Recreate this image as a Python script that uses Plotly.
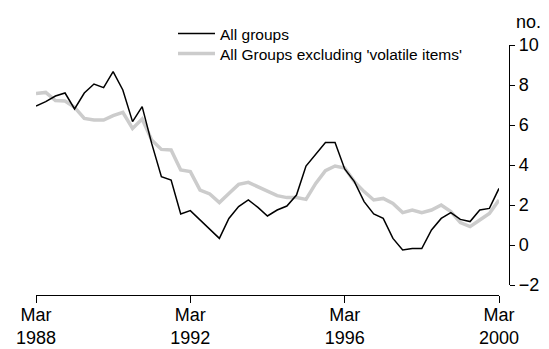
import plotly.graph_objects as go
import pandas as pd

# Quarterly, Mar 1988 to Mar 2000
quarters = pd.date_range("1988-03-01", "2000-03-01", freq="3MS").strftime("%Y-%m-%d").tolist()

all_groups = [
    6.95, 7.17, 7.45, 7.6, 6.8, 7.6, 8.05, 7.87, 8.67, 7.75, 6.17, 6.92,
    5.08, 3.42, 3.25, 1.55, 1.72, 1.25, 0.83, 0.33, 1.33, 1.92, 2.25, 1.88,
    1.45, 1.75, 1.95, 2.5, 3.95, 4.53, 5.12, 5.12, 3.8, 3.17, 2.17, 1.55,
    1.33, 0.33, -0.25, -0.18, -0.18, 0.75, 1.33, 1.62, 1.28, 1.17, 1.75, 1.83,
    2.83,
]
excl_volatile = [
    7.58, 7.63, 7.22, 7.2, 6.88, 6.33, 6.25, 6.25, 6.47, 6.63, 5.83, 6.3,
    5.25, 4.78, 4.75, 3.75, 3.67, 2.75, 2.55, 2.12, 2.58, 3.03, 3.13, 2.92,
    2.7, 2.47, 2.37, 2.37, 2.28, 3.08, 3.72, 3.95, 3.85, 3.17, 2.67, 2.25,
    2.33, 2.08, 1.62, 1.75, 1.62, 1.75, 2.0, 1.67, 1.12, 0.92, 1.25, 1.58,
    2.25,
]

tick_dates = ["1988-03-01", "1992-03-01", "1996-03-01", "2000-03-01"]
tick_text = ["Mar<br>1988", "Mar<br>1992", "Mar<br>1996", "Mar<br>2000"]
y_ticks = [-2, 0, 2, 4, 6, 8, 10]
y_text = ["\u22122", "0", "2", "4", "6", "8", "10"]

FONT = "Liberation Sans, Arial, sans-serif"

W, H = 549, 349
left, right_axis, data_right = 36, 509, 499
top, y_bottom, x_line = 45, 285, 295
plot_w = right_axis - left
plot_h = x_line - top


def px_y(py):
    """Page pixel row -> paper y coordinate."""
    return (H - py - (H - x_line)) / plot_h


def px_x(px):
    """Page pixel column -> paper x coordinate."""
    return (px - left) / plot_w


fig = go.Figure()
fig.add_trace(go.Scatter(
    x=quarters, y=excl_volatile, mode="lines",
    name="All Groups excluding 'volatile items'",
    line=dict(color="#cccccc", width=3.5), legend="legend2",
))
fig.add_trace(go.Scatter(
    x=quarters, y=all_groups, mode="lines", name="All groups",
    line=dict(color="#000000", width=1.5), legend="legend",
))

legend_style = dict(
    xanchor="left", yanchor="top",
    font=dict(size=15.5), bgcolor="rgba(0,0,0,0)", itemwidth=37,
)

fig.update_layout(
    width=W, height=H,
    margin=dict(l=left, r=W - right_axis, t=top, b=H - x_line, autoexpand=False),
    paper_bgcolor="white", plot_bgcolor="white",
    font=dict(family=FONT, size=18, color="#000000"),
    showlegend=True,
    legend=dict(x=px_x(173), y=px_y(17), **legend_style),
    legend2=dict(x=px_x(173), y=px_y(37), **legend_style),
    xaxis=dict(
        domain=[0, (data_right - left) / plot_w],
        range=[quarters[0], quarters[-1]],
        tickvals=tick_dates, ticktext=tick_text,
        showgrid=False, zeroline=False,
        showline=True, linecolor="#000000", linewidth=1.3,
        ticks="outside", ticklen=7, tickwidth=1.3, tickcolor="#000000",
        ticklabelstandoff=-4,
        anchor="free", position=0, automargin=False,
    ),
    yaxis=dict(
        domain=[(x_line - y_bottom) / plot_h, 1],
        range=[-2, 10], side="right",
        tickvals=y_ticks, ticktext=y_text,
        showgrid=False, zeroline=False,
        showline=True, linecolor="#000000", linewidth=1.3,
        ticks="outside", ticklen=5, tickwidth=1.3, tickcolor="#000000",
        anchor="free", position=1, automargin=False,
    ),
    annotations=[dict(
        text="no.", xref="paper", yref="paper",
        x=px_x(528), y=px_y(22),
        xanchor="center", yanchor="middle", showarrow=False,
        font=dict(size=18),
    )],
)

fig.write_html("out.html")
